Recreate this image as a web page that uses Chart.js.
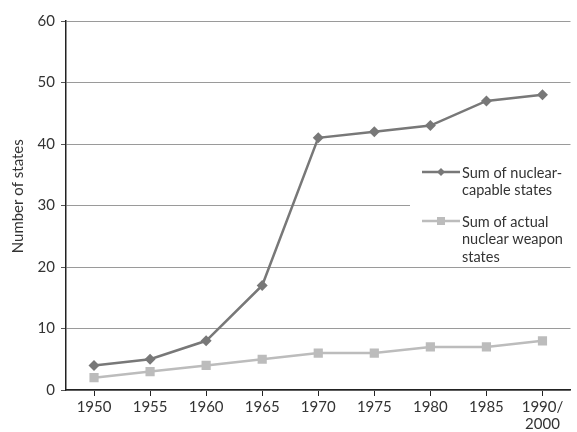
<!DOCTYPE html>
<html><head><meta charset="utf-8">
<script src="https://cdn.jsdelivr.net/npm/chart.js@4.4.0/dist/chart.umd.min.js"></script>
<style>html,body{margin:0;padding:0;background:#fff}#wrap{width:577px;height:432px}</style>
</head><body><div id="wrap"><canvas id="c"></canvas></div>
<script>
const categories = ["1950","1955","1960","1965","1970","1975","1980","1985",["1990/","2000"]];
const capableStates = [4,5,8,17,41,42,43,47,48];
const weaponStates = [2,3,4,5,6,6,7,7,8];
const seriesNames = [["Sum of nuclear-","capable states"],["Sum of actual","nuclear weapon","states"]];
const yTitle = 'Number of states';
const yTicks = {min:0,max:60,step:10};

const FONT = "Lato, 'Open Sans', sans-serif";
const dark = '#787878', light = '#bcbcbc';

const legendBox = {
  id:'legendBox',
  beforeDatasetsDraw(chart){
    const {ctx, chartArea, scales} = chart;
    const y = scales.y;
    const x0 = 410, x1 = chartArea.right + 2;
    const top = y.getPixelForValue(39.6), bot = y.getPixelForValue(20.4);
    ctx.save();
    ctx.fillStyle = '#fff';
    ctx.fillRect(x0, top, x1 - x0, bot - top);
    ctx.restore();
  },
  afterDraw(chart){
    const {ctx, scales} = chart;
    const items = [
      {color: dark, style:'diamond', lines: seriesNames[0], y: 172},
      {color: light, style:'rect', lines: seriesNames[1], y: 221}
    ];
    ctx.save();
    ctx.font = "14.5px " + FONT;
    ctx.textBaseline = 'middle';
    items.forEach(it=>{
      ctx.strokeStyle = it.color; ctx.lineWidth = 2.5;
      ctx.beginPath(); ctx.moveTo(422, it.y); ctx.lineTo(460, it.y); ctx.stroke();
      ctx.fillStyle = it.color;
      ctx.beginPath();
      if (it.style === 'rect') { ctx.fillRect(441-4, it.y-4, 8, 8); }
      else { ctx.moveTo(441, it.y-4); ctx.lineTo(445, it.y); ctx.lineTo(441, it.y+4); ctx.lineTo(437, it.y); ctx.closePath(); ctx.fill(); }
      ctx.fillStyle = '#333';
      it.lines.forEach((t,i)=>ctx.fillText(t, 462, it.y + 1 + i*17.5));
    });
    // y-axis title, placed a little above the axis centre as in the reference
    const ty = scales.y.getPixelForValue(31.5);
    ctx.translate(18, ty);
    ctx.rotate(-Math.PI/2);
    ctx.font = "15px " + FONT;
    ctx.textAlign = 'center';
    ctx.fillText(yTitle, 0, 0);
    ctx.restore();
  }
};

new Chart(document.getElementById('c'), {
  type:'line',
  data:{
    labels: categories,
    datasets:[
      {label: seriesNames[0].join(' '), data: capableStates, borderColor: dark, backgroundColor: dark,
       borderWidth: 2.5, pointStyle:'rectRot', pointRadius: 5.5, pointHoverRadius:5.5, pointBorderWidth:0, tension:0},
      {label: seriesNames[1].join(' '), data: weaponStates, borderColor: light, backgroundColor: light,
       borderWidth: 2.5, pointStyle:'rect', pointRadius: 6.5, pointHoverRadius:6.5, pointBorderWidth:0, tension:0}
    ]
  },
  plugins:[legendBox],
  options:{
    responsive:true, maintainAspectRatio:false, animation:false,
    layout:{padding:{top:21, right:-2, left:4, bottom:0}},
    plugins:{legend:{display:false}, tooltip:{enabled:false}},
    scales:{
      x:{
        offset:true,
        grid:{display:true, drawOnChartArea:false, offset:false, tickLength:6, tickColor:'#222'},
        border:{color:'#222', width:1.5},
        ticks:{color:'#333', font:{family:FONT, size:15, lineHeight:1.1}, padding:3, maxRotation:0, autoSkip:false},
        afterFit(s){ s.height = 42; }
      },
      y:{
        min:yTicks.min, max:yTicks.max,
        grid:{color:'#9a9a9a', lineWidth:1, tickLength:5, tickColor:'#555'},
        border:{color:'#222', width:1.5},
        ticks:{stepSize:yTicks.step, color:'#333', font:{family:FONT, size:15}, padding:6},
        title:{display:false},
        afterFit(s){ s.width = 62; }
      }
    }
  }
});
</script></body></html>
